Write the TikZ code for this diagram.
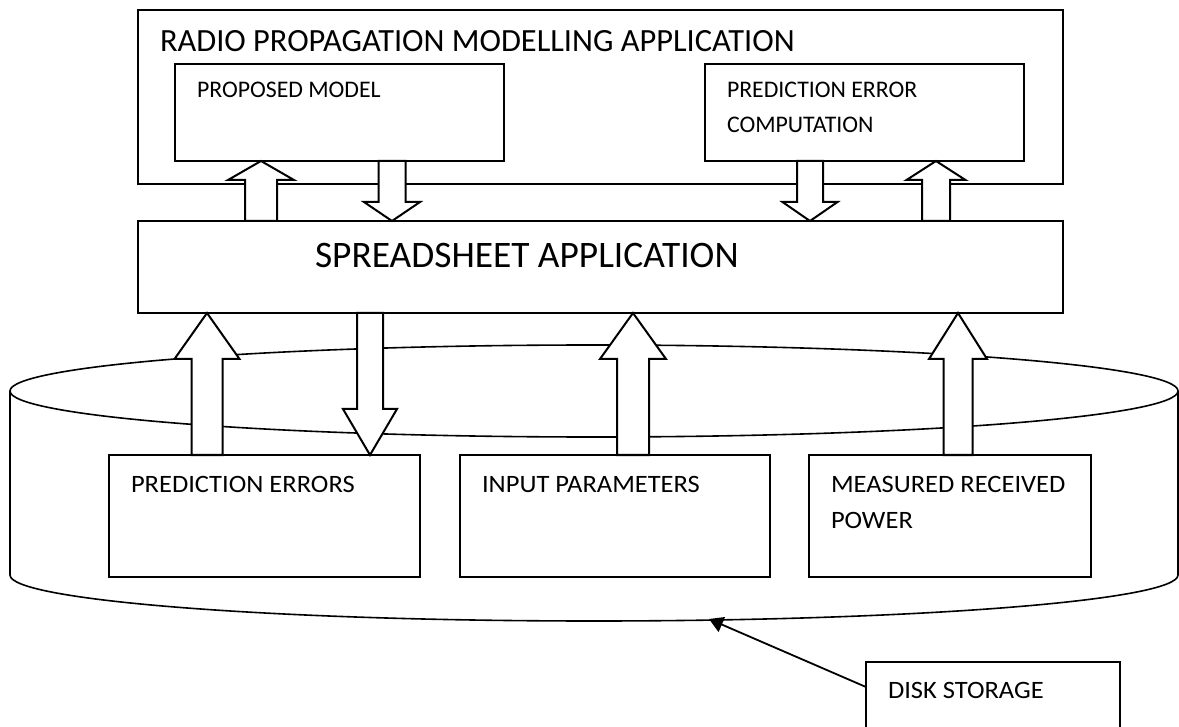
\documentclass[tikz,border=0pt]{standalone}
\usepackage{fontspec}
\setmainfont{Carlito}
\newfontfamily\lowfont{Carlito}[FakeStretch=1.06]
\usetikzlibrary{calc,arrows.meta}

\tikzset{
  box/.style={draw, line width=1pt, anchor=north west, inner xsep=11pt, inner ysep=0pt,
    outer sep=0pt, align=flush left, font=\fontsize{11.9}{17.5}\selectfont},
  lowbox/.style={box, font=\lowfont\fontsize{12.5}{18}\selectfont},
  blk/.style={draw, fill=white, line width=1pt, line join=miter},
  cyl/.style={draw, line width=0.8pt},
  ptr/.style={line width=0.9pt, -{Triangle[length=7pt,width=8pt]}}
}

% block arrow: start, tip, half shaft, half head, head length
\newcommand{\blockarr}[5]{%
  \path (#1) coordinate (bs) (#2) coordinate (tp) ($(tp)!#5!(bs)$) coordinate (hb);
  \draw[blk] ($(bs)!#3!90:(tp)$) -- ($(hb)!#3!90:(tp)$) -- ($(hb)!#4!90:(tp)$) -- (tp)
    -- ($(hb)!#4!-90:(tp)$) -- ($(hb)!#3!-90:(tp)$) -- ($(bs)!#3!-90:(tp)$) -- cycle;}

\begin{document}
\begin{tikzpicture}[x=0.5pt,y=-0.5pt]
	\useasboundingbox (0,0) rectangle (1179,727);
	% upper application
	\node[box, font=\fontsize{16.2}{19}\selectfont, text width=440.5pt,
		text height=21pt, text depth=66pt] (rpm) at (138,10) {RADIO PROPAGATION MODELLING APPLICATION};
	\node[box, text width=142.5pt, text height=17pt, text depth=31.5pt] (model) at (175,64) {PROPOSED MODEL};
	\node[box, text width=137.5pt, text height=17pt, text depth=31.5pt] (errc) at (705,64) {PREDICTION ERROR\\COMPUTATION};
	\node[box, font=\fontsize{18.7}{21}\selectfont, inner xsep=88.5pt, text width=285.5pt,
		text height=23.5pt, text depth=22.5pt] (sheet) at (138,221) {SPREADSHEET APPLICATION};
	% disk cylinder
	\draw[cyl] (594,391) ellipse [x radius=292pt, y radius=23pt];
	\draw[cyl] (10,391) -- (10,575) arc [start angle=180, end angle=360, x radius=292pt, y radius=23pt] -- (1178,391);
	\node[lowbox, text width=133.5pt, text height=18.5pt, text depth=42.5pt] (perr) at (109,455) {PREDICTION ERRORS};
	\node[lowbox, text width=133pt, text height=18.5pt, text depth=42.5pt] (inp) at (460,455) {INPUT PARAMETERS};
	\node[lowbox, text width=119pt, text height=18.5pt, text depth=42.5pt] (meas) at (809,455) {MEASURED~RECEIVED\\POWER};
	% block arrows
	\blockarr{261,0 |- sheet.north}{261,0 |- model.south}{8pt}{16.5pt}{9.5pt}
	\blockarr{392,0 |- model.south}{392,0 |- sheet.north}{6.75pt}{14pt}{9.5pt}
	\blockarr{810,0 |- errc.south}{810,0 |- sheet.north}{6.5pt}{13.75pt}{9.5pt}
	\blockarr{936,0 |- sheet.north}{936,0 |- errc.south}{7pt}{14.75pt}{9.5pt}
	\blockarr{207,0 |- perr.north}{207,0 |- sheet.south}{7.75pt}{16.25pt}{23pt}
	\blockarr{370,0 |- sheet.south}{370,0 |- perr.north}{6.5pt}{13.5pt}{23pt}
	\blockarr{633,0 |- inp.north}{633,0 |- sheet.south}{8pt}{16.5pt}{23pt}
	\blockarr{958,0 |- meas.north}{958,0 |- sheet.south}{7.25pt}{14.5pt}{23pt}
	% label for the cylinder
	\node[lowbox, text width=105pt, text height=18pt, text depth=42pt] (disk) at (866,662) {DISK STORAGE};
	\coordinate (cylbot) at (709,619);
	\draw[ptr] ([yshift=-12.5pt]disk.north west) -- (cylbot);
\end{tikzpicture}
\end{document}
